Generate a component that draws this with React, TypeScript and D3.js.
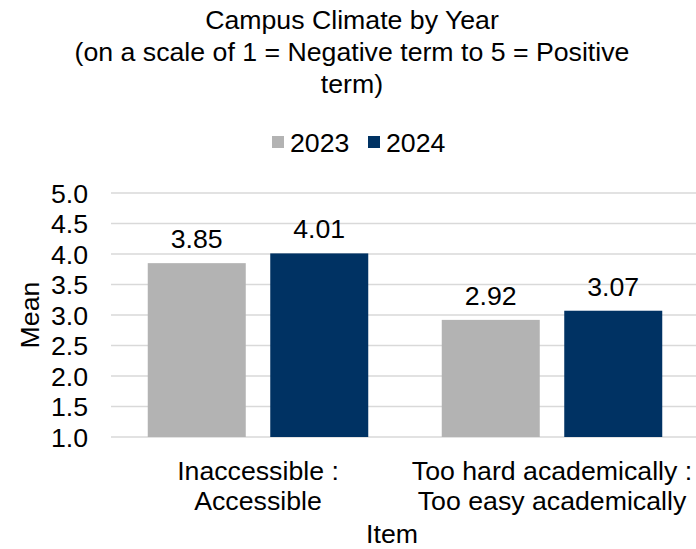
import React from "react";
import * as d3 from "d3";

const categories = [["Inaccessible :", "Accessible"], ["Too hard academically :", "Too easy academically"]];
const seriesNames = ["2023", "2024"];
const values2023 = [3.85, 2.92];
const values2024 = [4.01, 3.07];
const yTicks = [1.0, 1.5, 2.0, 2.5, 3.0, 3.5, 4.0, 4.5, 5.0];
const colors = ["#B3B3B3", "#003263"];
const titleLines = ["Campus Climate by Year", "(on a scale of 1 = Negative term to 5 = Positive", "term)"];

export default function App() {
  const W = 696, H = 549;
  const left = 111, right = 699, top = 193, bottom = 437;
  const fs = 26.7;
  const font = "Liberation Sans, Arial, sans-serif";
  const y = d3.scaleLinear().domain([1, 5]).range([bottom, top]);
  const x0 = d3.scaleBand<number>().domain([0, 1]).range([left, right]).paddingInner(0.25).paddingOuter(0.125);
  const x1 = d3.scaleBand<number>().domain([0, 1]).range([0, x0.bandwidth()]).paddingInner(0.2);
  const series = [values2023, values2024];
  return (
    <svg width={W} height={H} style={{ position: "absolute", left: 0, top: 0, fontFamily: font }}>
      <rect width={W} height={H} fill="#fff" />
      {titleLines.map((t, i) => (
        <text key={i} x={352} y={29 + i * 32} textAnchor="middle" fontSize={fs} fill="#000">{t}</text>
      ))}
      {seriesNames.map((s, i) => {
        const lx = i === 0 ? 272 : 368;
        return (
          <g key={s}>
            <rect x={lx} y={136} width={12} height={12} fill={colors[i]} />
            <text x={lx + 18} y={152} fontSize={fs} fill="#000">{s}</text>
          </g>
        );
      })}
      {yTicks.map((t) => (
        <g key={t}>
          <line x1={left} x2={right} y1={y(t)} y2={y(t)} stroke="#D9D9D9" strokeWidth={1.5} />
          <text x={88} y={y(t) + 9.5} textAnchor="end" fontSize={fs} fill="#000">{t.toFixed(1)}</text>
        </g>
      ))}
      {categories.map((c, ci) => (
        <g key={ci}>
          {series.map((vals, si) => {
            const bx = (x0(ci) as number) + (x1(si) as number);
            return (
              <g key={si}>
                <rect x={bx} y={y(vals[ci])} width={x1.bandwidth()} height={bottom - y(vals[ci])} fill={colors[si]} />
                <text x={bx + x1.bandwidth() / 2} y={y(vals[ci]) - 15} textAnchor="middle" fontSize={fs} fill="#000">{vals[ci].toFixed(2)}</text>
              </g>
            );
          })}
          {c.map((line, li) => (
            <text key={li} x={(x0(ci) as number) + x0.bandwidth() / 2} y={480 + li * 30} textAnchor="middle" fontSize={fs} fill="#000">{line}</text>
          ))}
        </g>
      ))}
      <text x={392} y={543} textAnchor="middle" fontSize={fs} fill="#000">Item</text>
      <text transform={`translate(39,315) rotate(-90)`} textAnchor="middle" fontSize={fs} fill="#000">Mean</text>
    </svg>
  );
}
